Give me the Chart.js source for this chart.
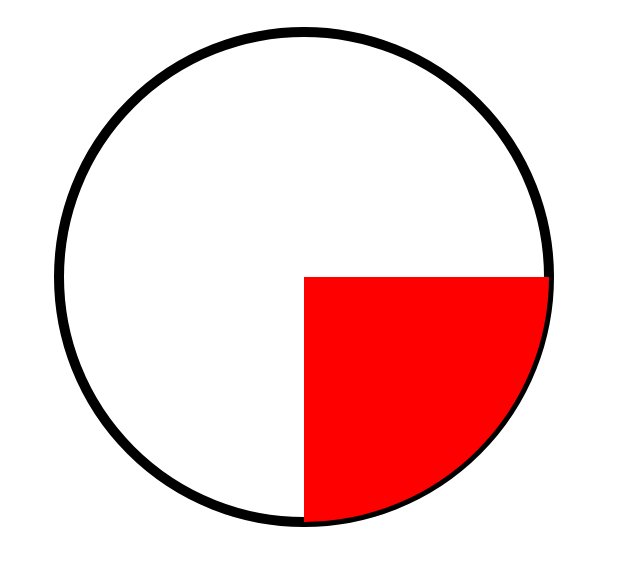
<!DOCTYPE html>
<html>
<head>
<meta charset="utf-8">
<script src="https://cdn.jsdelivr.net/npm/chart.js@4"></script>
<style>
html,body{margin:0;padding:0;background:#fff;}
#wrap{width:625px;height:584px;}
canvas{display:block;}
</style>
</head>
<body>
<div id="wrap"><canvas id="c" width="625" height="584"></canvas></div>
<script>
const categories = ['Filled', 'Empty'];
const values = [25, 75];
const colors = ['#ff0000', 'rgba(255,255,255,0)'];

const ringPlugin = {
  id: 'ring',
  beforeDatasetsDraw(chart) {
    const meta = chart.getDatasetMeta(0);
    const arc = meta.data[0];
    if (!arc) return;
    const ctx = chart.ctx;
    ctx.save();
    ctx.beginPath();
    ctx.arc(arc.x, arc.y, arc.outerRadius, 0, Math.PI * 2);
    ctx.lineWidth = 10;
    ctx.strokeStyle = '#000';
    ctx.stroke();
    ctx.restore();
  }
};

new Chart(document.getElementById('c'), {
  type: 'pie',
  data: {
    labels: categories,
    datasets: [{
      data: values,
      backgroundColor: colors,
      borderWidth: 0,
      hoverBorderWidth: 0,
      hoverOffset: 0
    }]
  },
  options: {
    responsive: false,
    animation: false,
    events: [],
    rotation: 90,
    layout: { padding: { top: 32, bottom: 62, left: 59, right: 76 } },
    plugins: { legend: { display: false }, tooltip: { enabled: false } }
  },
  plugins: [ringPlugin]
});
</script>
</body>
</html>
